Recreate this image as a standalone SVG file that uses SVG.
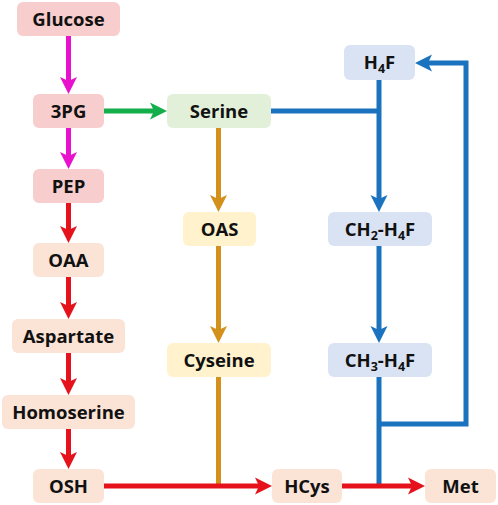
<svg xmlns="http://www.w3.org/2000/svg" width="498" height="505" viewBox="0 0 498 505">
<style>
.t{font-family:"Open Sans","Liberation Sans",Arial,sans-serif;font-weight:bold;font-size:18.5px;fill:#111;text-anchor:middle}
.s{font-size:12.5px}
.pk{fill:#F8CDCD}.pc{fill:#FBE3D6}.gr{fill:#E2F0D9}.yl{fill:#FFF2CC}.bl{fill:#DAE3F3}
.ln{fill:none;stroke-width:5}
.m{stroke:#E812CD}.g{stroke:#14AE4B}.r{stroke:#E6121B}.o{stroke:#D3901A}.b{stroke:#1B73BF}
</style>
<defs>
<marker id="am" markerUnits="userSpaceOnUse" markerWidth="17" markerHeight="17" refX="6" refY="8.5" orient="auto" overflow="visible"><path d="M0,0 L17,8.5 L0,17 L4,8.5 z" fill="#E812CD"/></marker>
<marker id="ag" markerUnits="userSpaceOnUse" markerWidth="17" markerHeight="17" refX="6" refY="8.5" orient="auto" overflow="visible"><path d="M0,0 L17,8.5 L0,17 L4,8.5 z" fill="#14AE4B"/></marker>
<marker id="ar" markerUnits="userSpaceOnUse" markerWidth="17" markerHeight="17" refX="6" refY="8.5" orient="auto" overflow="visible"><path d="M0,0 L17,8.5 L0,17 L4,8.5 z" fill="#E6121B"/></marker>
<marker id="ao" markerUnits="userSpaceOnUse" markerWidth="17" markerHeight="17" refX="6" refY="8.5" orient="auto" overflow="visible"><path d="M0,0 L17,8.5 L0,17 L4,8.5 z" fill="#D3901A"/></marker>
<marker id="ab" markerUnits="userSpaceOnUse" markerWidth="17" markerHeight="17" refX="6" refY="8.5" orient="auto" overflow="visible"><path d="M0,0 L17,8.5 L0,17 L4,8.5 z" fill="#1B73BF"/></marker>
</defs>
<g id="connectors">
<path class="ln m" d="M68.5,36 V83" marker-end="url(#am)"/>
<path class="ln m" d="M68.5,128 V158" marker-end="url(#am)"/>
<path class="ln r" d="M68.5,203 V232" marker-end="url(#ar)"/>
<path class="ln r" d="M68.5,277 V308" marker-end="url(#ar)"/>
<path class="ln r" d="M68.5,353 V384" marker-end="url(#ar)"/>
<path class="ln r" d="M68.5,429 V458" marker-end="url(#ar)"/>
<path class="ln g" d="M104,111 H156" marker-end="url(#ag)"/>
<path class="ln o" d="M218.5,128 V201" marker-end="url(#ao)"/>
<path class="ln o" d="M218.5,246 V332" marker-end="url(#ao)"/>
<path class="ln o" d="M218.5,377 V486"/>
<path class="ln b" d="M271,111 H379"/>
<path class="ln b" d="M379,80 V201" marker-end="url(#ab)"/>
<path class="ln b" d="M379,246 V332" marker-end="url(#ab)"/>
<path class="ln b" d="M379,377 V486"/>
<path class="ln b" d="M379,424 H466 V63 H426" marker-end="url(#ab)"/>
<path class="ln r" d="M104,486 H261" marker-end="url(#ar)"/>
<path class="ln r" d="M342,486 H414" marker-end="url(#ar)"/>
</g>
<g id="glucose"><rect class="pk" x="17" y="2" width="103" height="34" rx="6"/><text class="t" x="68.5" y="26">Glucose</text></g>
<g id="3pg"><rect class="pk" x="33" y="94" width="71" height="34" rx="6"/><text class="t" x="68.5" y="118">3PG</text></g>
<g id="pep"><rect class="pk" x="33" y="169" width="71" height="34" rx="6"/><text class="t" x="68.5" y="193">PEP</text></g>
<g id="oaa"><rect class="pc" x="33" y="243" width="71" height="34" rx="6"/><text class="t" x="68.5" y="267">OAA</text></g>
<g id="aspartate"><rect class="pc" x="12" y="319" width="113" height="34" rx="6"/><text class="t" x="68.5" y="343">Aspartate</text></g>
<g id="homoserine"><rect class="pc" x="2" y="395" width="133" height="34" rx="6"/><text class="t" x="68.5" y="419">Homoserine</text></g>
<g id="osh"><rect class="pc" x="33" y="469" width="71" height="34" rx="6"/><text class="t" x="68.5" y="493">OSH</text></g>
<g id="serine"><rect class="gr" x="167" y="94" width="104" height="34" rx="6"/><text class="t" x="219" y="118">Serine</text></g>
<g id="oas"><rect class="yl" x="183" y="212" width="73" height="34" rx="6"/><text class="t" x="219.5" y="236">OAS</text></g>
<g id="cyseine"><rect class="yl" x="167" y="343" width="104" height="34" rx="6"/><text class="t" x="219" y="367">Cyseine</text></g>
<g id="h4f"><rect class="bl" x="344" y="45" width="71" height="35" rx="6"/><text class="t" x="379.5" y="69">H<tspan class="s" dy="4">4</tspan><tspan dy="-4">F</tspan></text></g>
<g id="ch2h4f"><rect class="bl" x="328" y="212" width="104" height="34" rx="6"/><text class="t" x="380" y="235.5">CH<tspan class="s" dy="4">2</tspan><tspan dy="-4">-H</tspan><tspan class="s" dy="4">4</tspan><tspan dy="-4">F</tspan></text></g>
<g id="ch3h4f"><rect class="bl" x="328" y="343" width="104" height="34" rx="6"/><text class="t" x="380" y="366.5">CH<tspan class="s" dy="4">3</tspan><tspan dy="-4">-H</tspan><tspan class="s" dy="4">4</tspan><tspan dy="-4">F</tspan></text></g>
<g id="hcys"><rect class="pc" x="272" y="469" width="70" height="34" rx="6"/><text class="t" x="307" y="493">HCys</text></g>
<g id="met"><rect class="pc" x="425" y="469" width="71" height="34" rx="6"/><text class="t" x="460.5" y="493">Met</text></g>
</svg>
